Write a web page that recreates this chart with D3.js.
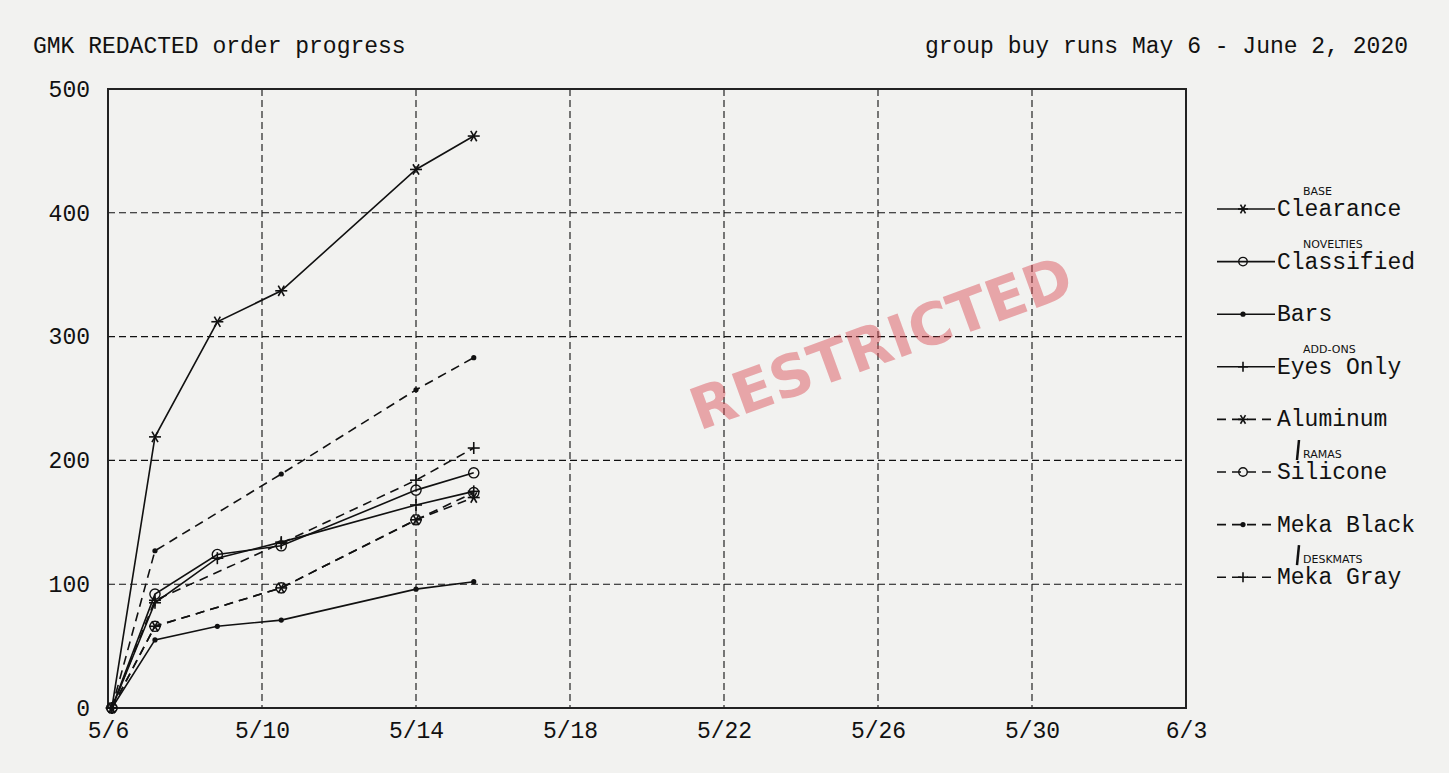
<!DOCTYPE html>
<html><head><meta charset="utf-8">
<script src="https://cdn.jsdelivr.net/npm/d3@7"></script>
<style>
body{margin:0;background:#f2f2f0;}
svg{display:block;}
</style></head>
<body>
<script>
// days after 5/6 at which each snapshot was taken
var snapshotDays = [0.1, 1.22, 2.84, 4.5, 8.0, 9.5];
var seriesNames = ["Clearance","Classified","Bars","Eyes Only","Aluminum","Silicone","Meka Black","Meka Gray"];
var seriesValues = [
  [0, 219, 312, 337, 435, 462],
  [0, 92, 124, 131, 176, 190],
  [0, 55, 66, 71, 96, 102],
  [0, 85, 121, 134, 164, 175],
  [0, 66, null, 97, 152, 170],
  [0, 66, null, 97, 152, 174],
  [0, 127, null, 189, 257, 283],
  [0, 87, null, 133, 184, 210]
];
var seriesMarkers = ["star","circle","dot","plus","star","circle","dot","plus"];
var seriesDashed = [false,false,false,false,true,true,true,true];
var legendNotes = ["BASE","NOVELTIES","","ADD-ONS","","RAMAS","","DESKMATS"];
var xTickDates = ["2020-05-06","2020-05-10","2020-05-14","2020-05-18","2020-05-22","2020-05-26","2020-05-30","2020-06-03"];
var yTicks = [0,100,200,300,400,500];

var W = 1449, H = 773;
var m = {left:108, right:1186, top:89, bottom:708};
var font = "'Liberation Mono', 'DejaVu Sans Mono', monospace";
var fs = 23;
var base = new Date(2020,4,6);
function dayToDate(d){ return new Date(base.getTime() + d*86400000); }

var svg = d3.select("body").append("svg").attr("width", W).attr("height", H);
svg.append("rect").attr("width", W).attr("height", H).attr("fill", "#f2f2f0");

var x = d3.scaleTime().domain([base, new Date(2020,5,3)]).range([m.left, m.right]);
var y = d3.scaleLinear().domain([0,500]).range([m.bottom, m.top]);
var tickDates = xTickDates.map(function(s){ var p = s.split("-"); return new Date(+p[0], +p[1]-1, +p[2]); });

// grid
svg.append("g").selectAll("line").data(tickDates.slice(1,-1)).join("line")
  .attr("x1", function(d){ return x(d); }).attr("x2", function(d){ return x(d); })
  .attr("y1", m.top).attr("y2", m.bottom)
  .attr("stroke","#111").attr("stroke-width",1.1).attr("stroke-dasharray","7,4");
svg.append("g").selectAll("line").data(yTicks.slice(1,-1)).join("line")
  .attr("x1", m.left).attr("x2", m.right)
  .attr("y1", function(d){ return y(d); }).attr("y2", function(d){ return y(d); })
  .attr("stroke","#111").attr("stroke-width",1.1).attr("stroke-dasharray","7,4");

svg.append("rect").attr("x", m.left).attr("y", m.top).attr("width", m.right-m.left).attr("height", m.bottom-m.top)
  .attr("fill","none").attr("stroke","#222").attr("stroke-width",2);

// axes
var xAxis = svg.append("g").attr("transform","translate(0,"+m.bottom+")")
  .call(d3.axisBottom(x).tickValues(tickDates).tickSize(0).tickPadding(14).tickFormat(d3.timeFormat("%-m/%-d")));
var yAxis = svg.append("g").attr("transform","translate("+m.left+",0)")
  .call(d3.axisLeft(y).tickValues(yTicks).tickSize(0).tickPadding(18));
[xAxis,yAxis].forEach(function(a){
  a.select(".domain").remove();
  a.selectAll("text").attr("font-family", font).attr("font-size", fs).attr("fill","#111");
});

// titles
svg.append("text").attr("x", 33).attr("y", 53).attr("font-family", font).attr("font-size", fs).attr("fill","#111").text("GMK REDACTED order progress");
svg.append("text").attr("x", 1408).attr("y", 53).attr("text-anchor","end").attr("font-family", font).attr("font-size", fs).attr("fill","#111").text("group buy runs May 6 - June 2, 2020");

// stamp
svg.append("text").attr("transform","translate(888,362) rotate(-20)").attr("text-anchor","middle")
  .attr("font-family","'DejaVu Sans', sans-serif").attr("font-weight","bold").attr("font-size", 58)
  .attr("fill","#d9464f").attr("fill-opacity",0.45).text("RESTRICTED");

function drawMarker(g, type, cx, cy, r){
  if(type=="star"){
    [0,60,120].forEach(function(a){
      var rad = a*Math.PI/180;
      g.append("line").attr("x1", cx-r*Math.cos(rad)).attr("y1", cy-r*Math.sin(rad))
        .attr("x2", cx+r*Math.cos(rad)).attr("y2", cy+r*Math.sin(rad)).attr("stroke","#111").attr("stroke-width",1.6);
    });
  } else if(type=="circle"){
    g.append("circle").attr("cx",cx).attr("cy",cy).attr("r",r*0.85).attr("fill","none").attr("stroke","#111").attr("stroke-width",1.4);
  } else if(type=="dot"){
    g.append("circle").attr("cx",cx).attr("cy",cy).attr("r",2.6).attr("fill","#111");
  } else {
    g.append("line").attr("x1",cx-r).attr("x2",cx+r).attr("y1",cy).attr("y2",cy).attr("stroke","#111").attr("stroke-width",1.6);
    g.append("line").attr("x1",cx).attr("x2",cx).attr("y1",cy-r).attr("y2",cy+r).attr("stroke","#111").attr("stroke-width",1.6);
  }
}

var line = d3.line().x(function(d){ return x(dayToDate(d[0])); }).y(function(d){ return y(d[1]); });
var plot = svg.append("g");
seriesValues.forEach(function(vals, i){
  var pts = [];
  vals.forEach(function(v, j){ if(v !== null) pts.push([snapshotDays[j], v]); });
  plot.append("path").attr("d", line(pts)).attr("fill","none").attr("stroke","#111").attr("stroke-width",1.6)
    .attr("stroke-dasharray", seriesDashed[i] ? "9,6" : null);
  var mg = plot.append("g");
  pts.forEach(function(p){ drawMarker(mg, seriesMarkers[i], x(dayToDate(p[0])), y(p[1]), 6); });
});

// legend
var lg = svg.append("g");
seriesNames.forEach(function(name, i){
  var ly = 209 + i*52.6;
  lg.append("line").attr("x1",1217).attr("x2",1275).attr("y1",ly).attr("y2",ly).attr("stroke","#111").attr("stroke-width",1.6)
    .attr("stroke-dasharray", seriesDashed[i] ? "9,6" : null);
  drawMarker(lg, seriesMarkers[i], 1243, ly, 5);
  lg.append("text").attr("x",1277).attr("y",ly+7).attr("font-family",font).attr("font-size",fs).attr("fill","#111").text(name);
  if(legendNotes[i]){
    lg.append("text").attr("x", 1303).attr("y", ly-14).attr("font-family","'DejaVu Sans', sans-serif").attr("font-size", 11)
      .attr("fill","#111").text(legendNotes[i]);
    if(i==5||i==7) lg.append("line").attr("x1",1299).attr("x2",1297).attr("y1",ly-32).attr("y2",ly-12).attr("stroke","#111").attr("stroke-width",2.5);
  }
});
</script>
</body></html>
